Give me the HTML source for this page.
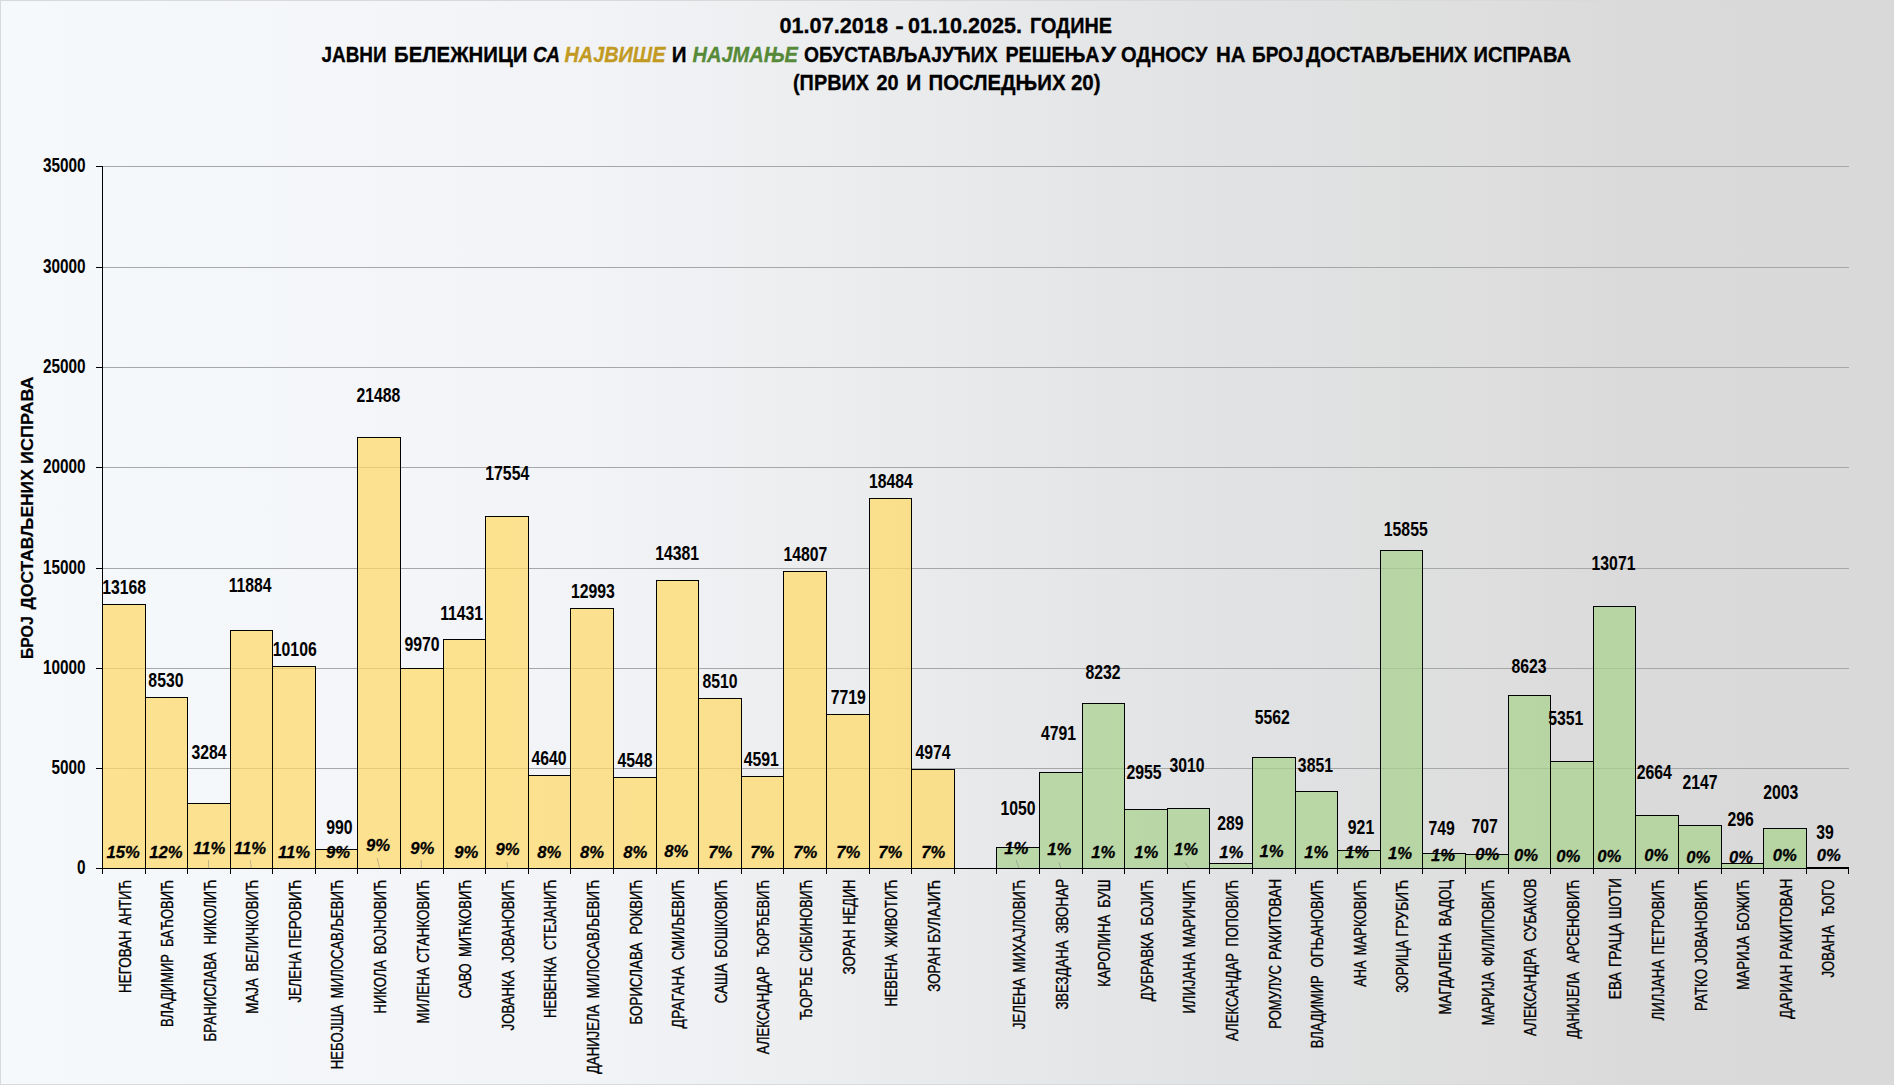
<!DOCTYPE html><html lang="sr"><head><meta charset="utf-8"><title>Јавни бележници</title>
<style>html,body{margin:0;padding:0;background:#ececee;}body{width:1894px;height:1085px;overflow:hidden;}svg{display:block}text{font-family:"Liberation Sans",Arial,sans-serif;fill:#000}.v{font-weight:bold;font-size:19.90px}.p{font-weight:bold;font-style:italic;font-size:16.00px}.c{font-size:16.00px;stroke:#000;stroke-width:0.35px}.p{stroke:#000;stroke-width:0.25px}.t{stroke:#000;stroke-width:0.30px}.yt{stroke:#000;stroke-width:0.20px}.t{font-weight:bold;font-size:21.30px}.ya{font-weight:bold;font-size:20.10px}.yt{font-weight:bold;font-size:17.30px}</style></head><body>
<svg width="1894" height="1085" viewBox="0 0 1894 1085">
<defs><linearGradient id="bg" x1="0" y1="0" x2="1" y2="0">
<stop offset="0.000" stop-color="#F6F9FC"/>
<stop offset="0.220" stop-color="#F3F5F8"/>
<stop offset="0.317" stop-color="#F1F3F6"/>
<stop offset="0.420" stop-color="#EDEEF0"/>
<stop offset="0.630" stop-color="#E2E3E5"/>
<stop offset="0.790" stop-color="#DDDEDD"/>
<stop offset="0.860" stop-color="#DADADA"/>
<stop offset="1.000" stop-color="#D9D9D9"/>
</linearGradient></defs>
<g id="gbg"><rect x="0" y="0" width="1894" height="1085" fill="url(#bg)"/>
<rect x="0.5" y="0.5" width="1893" height="1084" fill="none" stroke="#D9D9D9" stroke-width="1"/>
</g>
<g id="gtitle">
<text class="t" x="779.48" y="32.90" textLength="108.53" lengthAdjust="spacingAndGlyphs">01.07.2018</text>
<text class="t" x="895.34" y="32.90" textLength="8.48" lengthAdjust="spacingAndGlyphs">-</text>
<text class="t" x="907.99" y="32.90" textLength="114.03" lengthAdjust="spacingAndGlyphs">01.10.2025.</text>
<text class="t" x="1029.97" y="32.90" textLength="82.05" lengthAdjust="spacingAndGlyphs">ГОДИНЕ</text>
<text class="t" x="321.50" y="61.60" textLength="65.04" lengthAdjust="spacingAndGlyphs">ЈАВНИ</text>
<text class="t" x="393.98" y="61.60" textLength="133.54" lengthAdjust="spacingAndGlyphs">БЕЛЕЖНИЦИ</text>
<text class="t" x="532.97" y="61.60" textLength="27.11" lengthAdjust="spacingAndGlyphs" style="font-style:italic;">СА</text>
<text class="t" x="564.47" y="61.60" textLength="101.04" lengthAdjust="spacingAndGlyphs" style="font-style:italic;fill:#C29A22;stroke:#C29A22;">НАЈВИШЕ</text>
<text class="t" x="671.82" y="61.60" textLength="14.82" lengthAdjust="spacingAndGlyphs">И</text>
<text class="t" x="692.49" y="61.60" textLength="105.51" lengthAdjust="spacingAndGlyphs" style="font-style:italic;fill:#578A38;stroke:#578A38;">НАЈМАЊЕ</text>
<text class="t" x="804.00" y="61.60" textLength="193.50" lengthAdjust="spacingAndGlyphs">ОБУСТАВЉАЈУЋИХ</text>
<text class="t" x="1005.47" y="61.60" textLength="94.04" lengthAdjust="spacingAndGlyphs">РЕШЕЊА</text>
<text class="t" x="1100.98" y="61.60" textLength="15.03" lengthAdjust="spacingAndGlyphs">У</text>
<text class="t" x="1120.99" y="61.60" textLength="86.52" lengthAdjust="spacingAndGlyphs">ОДНОСУ</text>
<text class="t" x="1215.88" y="61.60" textLength="29.63" lengthAdjust="spacingAndGlyphs">НА</text>
<text class="t" x="1251.96" y="61.60" textLength="51.62" lengthAdjust="spacingAndGlyphs">БРОЈ</text>
<text class="t" x="1306.00" y="61.60" textLength="161.50" lengthAdjust="spacingAndGlyphs">ДОСТАВЉЕНИХ</text>
<text class="t" x="1473.47" y="61.60" textLength="97.56" lengthAdjust="spacingAndGlyphs">ИСПРАВА</text>
<text class="t" x="793.00" y="89.50" textLength="76.01" lengthAdjust="spacingAndGlyphs">(ПРВИХ</text>
<text class="t" x="876.44" y="89.50" textLength="22.13" lengthAdjust="spacingAndGlyphs">20</text>
<text class="t" x="906.18" y="89.50" textLength="15.04" lengthAdjust="spacingAndGlyphs">И</text>
<text class="t" x="928.49" y="89.50" textLength="137.02" lengthAdjust="spacingAndGlyphs">ПОСЛЕДЊИХ</text>
<text class="t" x="1070.97" y="89.50" textLength="29.57" lengthAdjust="spacingAndGlyphs">20)</text>
</g>
<g id="gchart">
<rect x="103" y="768" width="1746" height="1" fill="#A6A7A9"/>
<rect x="103" y="668" width="1746" height="1" fill="#A6A7A9"/>
<rect x="103" y="568" width="1746" height="1" fill="#A6A7A9"/>
<rect x="103" y="467" width="1746" height="1" fill="#A6A7A9"/>
<rect x="103" y="367" width="1746" height="1" fill="#A6A7A9"/>
<rect x="103" y="267" width="1746" height="1" fill="#A6A7A9"/>
<rect x="103" y="166" width="1746" height="1" fill="#A6A7A9"/>
<rect x="102" y="604" width="43" height="264" fill="#FFD966" fill-opacity="0.720"/>
<rect x="102" y="604" width="1" height="264" fill="#000"/>
<rect x="145" y="604" width="1" height="264" fill="#000"/>
<rect x="102" y="604" width="44" height="1" fill="#000"/>
<rect x="145" y="697" width="42" height="171" fill="#FFD966" fill-opacity="0.720"/>
<rect x="145" y="697" width="1" height="171" fill="#000"/>
<rect x="187" y="697" width="1" height="171" fill="#000"/>
<rect x="145" y="697" width="43" height="1" fill="#000"/>
<rect x="187" y="803" width="43" height="65" fill="#FFD966" fill-opacity="0.720"/>
<rect x="187" y="803" width="1" height="65" fill="#000"/>
<rect x="230" y="803" width="1" height="65" fill="#000"/>
<rect x="187" y="803" width="44" height="1" fill="#000"/>
<rect x="230" y="630" width="42" height="238" fill="#FFD966" fill-opacity="0.720"/>
<rect x="230" y="630" width="1" height="238" fill="#000"/>
<rect x="272" y="630" width="1" height="238" fill="#000"/>
<rect x="230" y="630" width="43" height="1" fill="#000"/>
<rect x="272" y="666" width="43" height="202" fill="#FFD966" fill-opacity="0.720"/>
<rect x="272" y="666" width="1" height="202" fill="#000"/>
<rect x="315" y="666" width="1" height="202" fill="#000"/>
<rect x="272" y="666" width="44" height="1" fill="#000"/>
<rect x="315" y="849" width="42" height="19" fill="#FFD966" fill-opacity="0.720"/>
<rect x="315" y="849" width="1" height="19" fill="#000"/>
<rect x="357" y="849" width="1" height="19" fill="#000"/>
<rect x="315" y="849" width="43" height="1" fill="#000"/>
<rect x="357" y="437" width="43" height="431" fill="#FFD966" fill-opacity="0.720"/>
<rect x="357" y="437" width="1" height="431" fill="#000"/>
<rect x="400" y="437" width="1" height="431" fill="#000"/>
<rect x="357" y="437" width="44" height="1" fill="#000"/>
<rect x="400" y="668" width="43" height="200" fill="#FFD966" fill-opacity="0.720"/>
<rect x="400" y="668" width="1" height="200" fill="#000"/>
<rect x="443" y="668" width="1" height="200" fill="#000"/>
<rect x="400" y="668" width="44" height="1" fill="#000"/>
<rect x="443" y="639" width="42" height="229" fill="#FFD966" fill-opacity="0.720"/>
<rect x="443" y="639" width="1" height="229" fill="#000"/>
<rect x="485" y="639" width="1" height="229" fill="#000"/>
<rect x="443" y="639" width="43" height="1" fill="#000"/>
<rect x="485" y="516" width="43" height="352" fill="#FFD966" fill-opacity="0.720"/>
<rect x="485" y="516" width="1" height="352" fill="#000"/>
<rect x="528" y="516" width="1" height="352" fill="#000"/>
<rect x="485" y="516" width="44" height="1" fill="#000"/>
<rect x="528" y="775" width="42" height="93" fill="#FFD966" fill-opacity="0.720"/>
<rect x="528" y="775" width="1" height="93" fill="#000"/>
<rect x="570" y="775" width="1" height="93" fill="#000"/>
<rect x="528" y="775" width="43" height="1" fill="#000"/>
<rect x="570" y="608" width="43" height="260" fill="#FFD966" fill-opacity="0.720"/>
<rect x="570" y="608" width="1" height="260" fill="#000"/>
<rect x="613" y="608" width="1" height="260" fill="#000"/>
<rect x="570" y="608" width="44" height="1" fill="#000"/>
<rect x="613" y="777" width="43" height="91" fill="#FFD966" fill-opacity="0.720"/>
<rect x="613" y="777" width="1" height="91" fill="#000"/>
<rect x="656" y="777" width="1" height="91" fill="#000"/>
<rect x="613" y="777" width="44" height="1" fill="#000"/>
<rect x="656" y="580" width="42" height="288" fill="#FFD966" fill-opacity="0.720"/>
<rect x="656" y="580" width="1" height="288" fill="#000"/>
<rect x="698" y="580" width="1" height="288" fill="#000"/>
<rect x="656" y="580" width="43" height="1" fill="#000"/>
<rect x="698" y="698" width="43" height="170" fill="#FFD966" fill-opacity="0.720"/>
<rect x="698" y="698" width="1" height="170" fill="#000"/>
<rect x="741" y="698" width="1" height="170" fill="#000"/>
<rect x="698" y="698" width="44" height="1" fill="#000"/>
<rect x="741" y="776" width="42" height="92" fill="#FFD966" fill-opacity="0.720"/>
<rect x="741" y="776" width="1" height="92" fill="#000"/>
<rect x="783" y="776" width="1" height="92" fill="#000"/>
<rect x="741" y="776" width="43" height="1" fill="#000"/>
<rect x="783" y="571" width="43" height="297" fill="#FFD966" fill-opacity="0.720"/>
<rect x="783" y="571" width="1" height="297" fill="#000"/>
<rect x="826" y="571" width="1" height="297" fill="#000"/>
<rect x="783" y="571" width="44" height="1" fill="#000"/>
<rect x="826" y="714" width="43" height="154" fill="#FFD966" fill-opacity="0.720"/>
<rect x="826" y="714" width="1" height="154" fill="#000"/>
<rect x="869" y="714" width="1" height="154" fill="#000"/>
<rect x="826" y="714" width="44" height="1" fill="#000"/>
<rect x="869" y="498" width="42" height="370" fill="#FFD966" fill-opacity="0.720"/>
<rect x="869" y="498" width="1" height="370" fill="#000"/>
<rect x="911" y="498" width="1" height="370" fill="#000"/>
<rect x="869" y="498" width="43" height="1" fill="#000"/>
<rect x="911" y="769" width="43" height="99" fill="#FFD966" fill-opacity="0.720"/>
<rect x="911" y="769" width="1" height="99" fill="#000"/>
<rect x="954" y="769" width="1" height="99" fill="#000"/>
<rect x="911" y="769" width="44" height="1" fill="#000"/>
<rect x="996" y="847" width="43" height="21" fill="#A9D18E" fill-opacity="0.720"/>
<rect x="996" y="847" width="1" height="21" fill="#000"/>
<rect x="1039" y="847" width="1" height="21" fill="#000"/>
<rect x="996" y="847" width="44" height="1" fill="#000"/>
<rect x="1039" y="772" width="43" height="96" fill="#A9D18E" fill-opacity="0.720"/>
<rect x="1039" y="772" width="1" height="96" fill="#000"/>
<rect x="1082" y="772" width="1" height="96" fill="#000"/>
<rect x="1039" y="772" width="44" height="1" fill="#000"/>
<rect x="1082" y="703" width="42" height="165" fill="#A9D18E" fill-opacity="0.720"/>
<rect x="1082" y="703" width="1" height="165" fill="#000"/>
<rect x="1124" y="703" width="1" height="165" fill="#000"/>
<rect x="1082" y="703" width="43" height="1" fill="#000"/>
<rect x="1124" y="809" width="43" height="59" fill="#A9D18E" fill-opacity="0.720"/>
<rect x="1124" y="809" width="1" height="59" fill="#000"/>
<rect x="1167" y="809" width="1" height="59" fill="#000"/>
<rect x="1124" y="809" width="44" height="1" fill="#000"/>
<rect x="1167" y="808" width="42" height="60" fill="#A9D18E" fill-opacity="0.720"/>
<rect x="1167" y="808" width="1" height="60" fill="#000"/>
<rect x="1209" y="808" width="1" height="60" fill="#000"/>
<rect x="1167" y="808" width="43" height="1" fill="#000"/>
<rect x="1209" y="863" width="43" height="5" fill="#A9D18E" fill-opacity="0.720"/>
<rect x="1209" y="863" width="1" height="5" fill="#000"/>
<rect x="1252" y="863" width="1" height="5" fill="#000"/>
<rect x="1209" y="863" width="44" height="1" fill="#000"/>
<rect x="1252" y="757" width="43" height="111" fill="#A9D18E" fill-opacity="0.720"/>
<rect x="1252" y="757" width="1" height="111" fill="#000"/>
<rect x="1295" y="757" width="1" height="111" fill="#000"/>
<rect x="1252" y="757" width="44" height="1" fill="#000"/>
<rect x="1295" y="791" width="42" height="77" fill="#A9D18E" fill-opacity="0.720"/>
<rect x="1295" y="791" width="1" height="77" fill="#000"/>
<rect x="1337" y="791" width="1" height="77" fill="#000"/>
<rect x="1295" y="791" width="43" height="1" fill="#000"/>
<rect x="1337" y="850" width="43" height="18" fill="#A9D18E" fill-opacity="0.720"/>
<rect x="1337" y="850" width="1" height="18" fill="#000"/>
<rect x="1380" y="850" width="1" height="18" fill="#000"/>
<rect x="1337" y="850" width="44" height="1" fill="#000"/>
<rect x="1380" y="550" width="42" height="318" fill="#A9D18E" fill-opacity="0.720"/>
<rect x="1380" y="550" width="1" height="318" fill="#000"/>
<rect x="1422" y="550" width="1" height="318" fill="#000"/>
<rect x="1380" y="550" width="43" height="1" fill="#000"/>
<rect x="1422" y="853" width="43" height="15" fill="#A9D18E" fill-opacity="0.720"/>
<rect x="1422" y="853" width="1" height="15" fill="#000"/>
<rect x="1465" y="853" width="1" height="15" fill="#000"/>
<rect x="1422" y="853" width="44" height="1" fill="#000"/>
<rect x="1465" y="854" width="43" height="14" fill="#A9D18E" fill-opacity="0.720"/>
<rect x="1465" y="854" width="1" height="14" fill="#000"/>
<rect x="1508" y="854" width="1" height="14" fill="#000"/>
<rect x="1465" y="854" width="44" height="1" fill="#000"/>
<rect x="1508" y="695" width="42" height="173" fill="#A9D18E" fill-opacity="0.720"/>
<rect x="1508" y="695" width="1" height="173" fill="#000"/>
<rect x="1550" y="695" width="1" height="173" fill="#000"/>
<rect x="1508" y="695" width="43" height="1" fill="#000"/>
<rect x="1550" y="761" width="43" height="107" fill="#A9D18E" fill-opacity="0.720"/>
<rect x="1550" y="761" width="1" height="107" fill="#000"/>
<rect x="1593" y="761" width="1" height="107" fill="#000"/>
<rect x="1550" y="761" width="44" height="1" fill="#000"/>
<rect x="1593" y="606" width="42" height="262" fill="#A9D18E" fill-opacity="0.720"/>
<rect x="1593" y="606" width="1" height="262" fill="#000"/>
<rect x="1635" y="606" width="1" height="262" fill="#000"/>
<rect x="1593" y="606" width="43" height="1" fill="#000"/>
<rect x="1635" y="815" width="43" height="53" fill="#A9D18E" fill-opacity="0.720"/>
<rect x="1635" y="815" width="1" height="53" fill="#000"/>
<rect x="1678" y="815" width="1" height="53" fill="#000"/>
<rect x="1635" y="815" width="44" height="1" fill="#000"/>
<rect x="1678" y="825" width="43" height="43" fill="#A9D18E" fill-opacity="0.720"/>
<rect x="1678" y="825" width="1" height="43" fill="#000"/>
<rect x="1721" y="825" width="1" height="43" fill="#000"/>
<rect x="1678" y="825" width="44" height="1" fill="#000"/>
<rect x="1721" y="863" width="42" height="5" fill="#A9D18E" fill-opacity="0.720"/>
<rect x="1721" y="863" width="1" height="5" fill="#000"/>
<rect x="1763" y="863" width="1" height="5" fill="#000"/>
<rect x="1721" y="863" width="43" height="1" fill="#000"/>
<rect x="1763" y="828" width="43" height="40" fill="#A9D18E" fill-opacity="0.720"/>
<rect x="1763" y="828" width="1" height="40" fill="#000"/>
<rect x="1806" y="828" width="1" height="40" fill="#000"/>
<rect x="1763" y="828" width="44" height="1" fill="#000"/>
<rect x="1806" y="867" width="43" height="1" fill="#000"/>
<rect x="102" y="166" width="1" height="703" fill="#000"/>
<rect x="102" y="868" width="1747" height="1" fill="#000"/>
<rect x="96" y="868" width="6" height="1" fill="#000"/>
<rect x="96" y="768" width="6" height="1" fill="#000"/>
<rect x="96" y="668" width="6" height="1" fill="#000"/>
<rect x="96" y="568" width="6" height="1" fill="#000"/>
<rect x="96" y="467" width="6" height="1" fill="#000"/>
<rect x="96" y="367" width="6" height="1" fill="#000"/>
<rect x="96" y="267" width="6" height="1" fill="#000"/>
<rect x="96" y="166" width="6" height="1" fill="#000"/>
<rect x="102" y="869" width="1" height="5" fill="#000"/>
<rect x="145" y="869" width="1" height="5" fill="#000"/>
<rect x="187" y="869" width="1" height="5" fill="#000"/>
<rect x="230" y="869" width="1" height="5" fill="#000"/>
<rect x="272" y="869" width="1" height="5" fill="#000"/>
<rect x="315" y="869" width="1" height="5" fill="#000"/>
<rect x="357" y="869" width="1" height="5" fill="#000"/>
<rect x="400" y="869" width="1" height="5" fill="#000"/>
<rect x="443" y="869" width="1" height="5" fill="#000"/>
<rect x="485" y="869" width="1" height="5" fill="#000"/>
<rect x="528" y="869" width="1" height="5" fill="#000"/>
<rect x="570" y="869" width="1" height="5" fill="#000"/>
<rect x="613" y="869" width="1" height="5" fill="#000"/>
<rect x="656" y="869" width="1" height="5" fill="#000"/>
<rect x="698" y="869" width="1" height="5" fill="#000"/>
<rect x="741" y="869" width="1" height="5" fill="#000"/>
<rect x="783" y="869" width="1" height="5" fill="#000"/>
<rect x="826" y="869" width="1" height="5" fill="#000"/>
<rect x="869" y="869" width="1" height="5" fill="#000"/>
<rect x="911" y="869" width="1" height="5" fill="#000"/>
<rect x="954" y="869" width="1" height="5" fill="#000"/>
<rect x="996" y="869" width="1" height="5" fill="#000"/>
<rect x="1039" y="869" width="1" height="5" fill="#000"/>
<rect x="1082" y="869" width="1" height="5" fill="#000"/>
<rect x="1124" y="869" width="1" height="5" fill="#000"/>
<rect x="1167" y="869" width="1" height="5" fill="#000"/>
<rect x="1209" y="869" width="1" height="5" fill="#000"/>
<rect x="1252" y="869" width="1" height="5" fill="#000"/>
<rect x="1295" y="869" width="1" height="5" fill="#000"/>
<rect x="1337" y="869" width="1" height="5" fill="#000"/>
<rect x="1380" y="869" width="1" height="5" fill="#000"/>
<rect x="1422" y="869" width="1" height="5" fill="#000"/>
<rect x="1465" y="869" width="1" height="5" fill="#000"/>
<rect x="1508" y="869" width="1" height="5" fill="#000"/>
<rect x="1550" y="869" width="1" height="5" fill="#000"/>
<rect x="1593" y="869" width="1" height="5" fill="#000"/>
<rect x="1635" y="869" width="1" height="5" fill="#000"/>
<rect x="1678" y="869" width="1" height="5" fill="#000"/>
<rect x="1721" y="869" width="1" height="5" fill="#000"/>
<rect x="1763" y="869" width="1" height="5" fill="#000"/>
<rect x="1806" y="869" width="1" height="5" fill="#000"/>
<rect x="1848" y="869" width="1" height="5" fill="#000"/>
</g>
<g id="gylab">
<text class="ya" x="0.00" y="0.00" text-anchor="end" transform="translate(85.60 873.50) scale(0.7640 1) translate(0.00 0.00)">0</text>
<text class="ya" x="0.00" y="0.00" text-anchor="end" transform="translate(85.60 773.50) scale(0.7640 1) translate(0.00 0.00)">5000</text>
<text class="ya" x="0.00" y="0.00" text-anchor="end" transform="translate(85.60 673.50) scale(0.7640 1) translate(0.00 0.00)">10000</text>
<text class="ya" x="0.00" y="0.00" text-anchor="end" transform="translate(85.60 573.50) scale(0.7640 1) translate(0.00 0.00)">15000</text>
<text class="ya" x="0.00" y="0.00" text-anchor="end" transform="translate(85.60 472.50) scale(0.7640 1) translate(0.00 0.00)">20000</text>
<text class="ya" x="0.00" y="0.00" text-anchor="end" transform="translate(85.60 372.50) scale(0.7640 1) translate(0.00 0.00)">25000</text>
<text class="ya" x="0.00" y="0.00" text-anchor="end" transform="translate(85.60 272.50) scale(0.7640 1) translate(0.00 0.00)">30000</text>
<text class="ya" x="0.00" y="0.00" text-anchor="end" transform="translate(85.60 171.50) scale(0.7640 1) translate(0.00 0.00)">35000</text>
</g>
<g id="gytitle">
<text class="yt" text-anchor="end" transform="translate(32.90 376.40) rotate(-90) scale(1.0430 1)">ИСПРАВА</text>
<text class="yt" text-anchor="end" transform="translate(32.90 469.21) rotate(-90) scale(1.0088 1)">ДОСТАВЉЕНИХ</text>
<text class="yt" text-anchor="end" transform="translate(32.90 616.31) rotate(-90) scale(0.9144 1)">БРОЈ</text>
</g>
<g id="gvlab">
<text class="v" text-anchor="middle" transform="translate(124.05 593.80) scale(0.7930 1)">13168</text>
<text class="v" text-anchor="middle" transform="translate(165.90 686.60) scale(0.7930 1)">8530</text>
<text class="v" text-anchor="middle" transform="translate(209.10 759.00) scale(0.7930 1)">3284</text>
<text class="v" text-anchor="middle" transform="translate(250.10 592.00) scale(0.7930 1)">11884</text>
<text class="v" text-anchor="middle" transform="translate(294.75 655.60) scale(0.7930 1)">10106</text>
<text class="v" text-anchor="middle" transform="translate(339.40 833.60) scale(0.7930 1)">990</text>
<text class="v" text-anchor="middle" transform="translate(378.35 401.70) scale(0.7930 1)">21488</text>
<text class="v" text-anchor="middle" transform="translate(422.00 650.70) scale(0.7930 1)">9970</text>
<text class="v" text-anchor="middle" transform="translate(461.60 619.90) scale(0.7930 1)">11431</text>
<text class="v" text-anchor="middle" transform="translate(507.25 479.80) scale(0.7930 1)">17554</text>
<text class="v" text-anchor="middle" transform="translate(549.00 764.90) scale(0.7930 1)">4640</text>
<text class="v" text-anchor="middle" transform="translate(592.90 597.80) scale(0.7930 1)">12993</text>
<text class="v" text-anchor="middle" transform="translate(634.95 766.80) scale(0.7930 1)">4548</text>
<text class="v" text-anchor="middle" transform="translate(677.15 560.20) scale(0.7930 1)">14381</text>
<text class="v" text-anchor="middle" transform="translate(720.05 687.70) scale(0.7930 1)">8510</text>
<text class="v" text-anchor="middle" transform="translate(761.20 765.90) scale(0.7930 1)">4591</text>
<text class="v" text-anchor="middle" transform="translate(805.40 561.20) scale(0.7930 1)">14807</text>
<text class="v" text-anchor="middle" transform="translate(848.20 704.00) scale(0.7930 1)">7719</text>
<text class="v" text-anchor="middle" transform="translate(890.85 488.30) scale(0.7930 1)">18484</text>
<text class="v" text-anchor="middle" transform="translate(933.10 758.80) scale(0.7930 1)">4974</text>
<text class="v" text-anchor="middle" transform="translate(1018.10 814.90) scale(0.7930 1)">1050</text>
<text class="v" text-anchor="middle" transform="translate(1058.50 740.00) scale(0.7930 1)">4791</text>
<text class="v" text-anchor="middle" transform="translate(1103.00 678.80) scale(0.7930 1)">8232</text>
<text class="v" text-anchor="middle" transform="translate(1143.95 779.40) scale(0.7930 1)">2955</text>
<text class="v" text-anchor="middle" transform="translate(1187.05 771.80) scale(0.7930 1)">3010</text>
<text class="v" text-anchor="middle" transform="translate(1230.40 829.60) scale(0.7930 1)">289</text>
<text class="v" text-anchor="middle" transform="translate(1272.25 723.60) scale(0.7930 1)">5562</text>
<text class="v" text-anchor="middle" transform="translate(1315.40 772.40) scale(0.7930 1)">3851</text>
<text class="v" text-anchor="middle" transform="translate(1361.00 833.50) scale(0.7930 1)">921</text>
<text class="v" text-anchor="middle" transform="translate(1405.75 535.90) scale(0.7930 1)">15855</text>
<text class="v" text-anchor="middle" transform="translate(1441.60 835.20) scale(0.7930 1)">749</text>
<text class="v" text-anchor="middle" transform="translate(1484.55 832.60) scale(0.7930 1)">707</text>
<text class="v" text-anchor="middle" transform="translate(1528.95 672.80) scale(0.7930 1)">8623</text>
<text class="v" text-anchor="middle" transform="translate(1565.75 725.10) scale(0.7930 1)">5351</text>
<text class="v" text-anchor="middle" transform="translate(1613.50 570.00) scale(0.7930 1)">13071</text>
<text class="v" text-anchor="middle" transform="translate(1654.30 778.80) scale(0.7930 1)">2664</text>
<text class="v" text-anchor="middle" transform="translate(1699.95 788.70) scale(0.7930 1)">2147</text>
<text class="v" text-anchor="middle" transform="translate(1740.60 825.70) scale(0.7930 1)">296</text>
<text class="v" text-anchor="middle" transform="translate(1780.85 798.90) scale(0.7930 1)">2003</text>
<text class="v" text-anchor="middle" transform="translate(1825.00 839.40) scale(0.7930 1)">39</text>
</g>
<g id="gplab">
<text class="p" text-anchor="middle" transform="translate(123.20 857.60) scale(1.0400 1)">15%</text>
<text class="p" text-anchor="middle" transform="translate(166.00 857.60) scale(1.0400 1)">12%</text>
<text class="p" text-anchor="middle" transform="translate(209.15 853.90) scale(1.0400 1)">11%</text>
<line x1="208.50" y1="860.20" x2="208.60" y2="868.00" stroke="#808080" stroke-opacity="0.55" stroke-width="0.90"/>
<text class="p" text-anchor="middle" transform="translate(249.95 853.90) scale(1.0400 1)">11%</text>
<line x1="250.40" y1="860.20" x2="251.20" y2="868.00" stroke="#808080" stroke-opacity="0.55" stroke-width="0.90"/>
<text class="p" text-anchor="middle" transform="translate(294.05 857.60) scale(1.0400 1)">11%</text>
<text class="p" text-anchor="middle" transform="translate(338.00 857.60) scale(1.0400 1)">9%</text>
<text class="p" text-anchor="middle" transform="translate(377.95 850.90) scale(1.0400 1)">9%</text>
<line x1="377.20" y1="858.10" x2="379.50" y2="868.00" stroke="#808080" stroke-opacity="0.55" stroke-width="0.90"/>
<text class="p" text-anchor="middle" transform="translate(422.25 854.10) scale(1.0400 1)">9%</text>
<line x1="421.20" y1="860.20" x2="421.30" y2="868.00" stroke="#808080" stroke-opacity="0.55" stroke-width="0.90"/>
<text class="p" text-anchor="middle" transform="translate(466.25 858.20) scale(1.0400 1)">9%</text>
<text class="p" text-anchor="middle" transform="translate(507.40 854.90) scale(1.0400 1)">9%</text>
<line x1="507.10" y1="862.40" x2="507.60" y2="868.00" stroke="#808080" stroke-opacity="0.55" stroke-width="0.90"/>
<text class="p" text-anchor="middle" transform="translate(549.30 858.20) scale(1.0400 1)">8%</text>
<text class="p" text-anchor="middle" transform="translate(592.10 858.20) scale(1.0400 1)">8%</text>
<text class="p" text-anchor="middle" transform="translate(635.20 858.20) scale(1.0400 1)">8%</text>
<text class="p" text-anchor="middle" transform="translate(676.20 857.30) scale(1.0400 1)">8%</text>
<text class="p" text-anchor="middle" transform="translate(720.20 858.00) scale(1.0400 1)">7%</text>
<text class="p" text-anchor="middle" transform="translate(762.15 858.00) scale(1.0400 1)">7%</text>
<text class="p" text-anchor="middle" transform="translate(805.15 858.00) scale(1.0400 1)">7%</text>
<text class="p" text-anchor="middle" transform="translate(848.20 858.00) scale(1.0400 1)">7%</text>
<text class="p" text-anchor="middle" transform="translate(890.25 858.00) scale(1.0400 1)">7%</text>
<text class="p" text-anchor="middle" transform="translate(933.15 858.00) scale(1.0400 1)">7%</text>
<text class="p" text-anchor="middle" transform="translate(1016.15 854.10) scale(1.0400 1)">1%</text>
<line x1="1016.10" y1="860.10" x2="1018.80" y2="868.00" stroke="#808080" stroke-opacity="0.55" stroke-width="0.90"/>
<text class="p" text-anchor="middle" transform="translate(1059.20 854.60) scale(1.0400 1)">1%</text>
<line x1="1059.10" y1="862.30" x2="1060.70" y2="868.00" stroke="#808080" stroke-opacity="0.55" stroke-width="0.90"/>
<text class="p" text-anchor="middle" transform="translate(1103.20 858.00) scale(1.0400 1)">1%</text>
<text class="p" text-anchor="middle" transform="translate(1146.20 858.00) scale(1.0400 1)">1%</text>
<text class="p" text-anchor="middle" transform="translate(1185.95 854.60) scale(1.0400 1)">1%</text>
<line x1="1184.80" y1="862.30" x2="1189.00" y2="868.00" stroke="#808080" stroke-opacity="0.55" stroke-width="0.90"/>
<text class="p" text-anchor="middle" transform="translate(1231.25 857.70) scale(1.0400 1)">1%</text>
<text class="p" text-anchor="middle" transform="translate(1271.40 856.80) scale(1.0400 1)">1%</text>
<text class="p" text-anchor="middle" transform="translate(1316.15 857.70) scale(1.0400 1)">1%</text>
<text class="p" text-anchor="middle" transform="translate(1357.10 857.70) scale(1.0400 1)">1%</text>
<text class="p" text-anchor="middle" transform="translate(1399.95 859.30) scale(1.0400 1)">1%</text>
<text class="p" text-anchor="middle" transform="translate(1442.90 860.50) scale(1.0400 1)">1%</text>
<text class="p" text-anchor="middle" transform="translate(1487.20 859.70) scale(1.0400 1)">0%</text>
<text class="p" text-anchor="middle" transform="translate(1526.10 860.60) scale(1.0400 1)">0%</text>
<text class="p" text-anchor="middle" transform="translate(1568.20 861.60) scale(1.0400 1)">0%</text>
<text class="p" text-anchor="middle" transform="translate(1609.20 861.60) scale(1.0400 1)">0%</text>
<text class="p" text-anchor="middle" transform="translate(1656.35 860.60) scale(1.0400 1)">0%</text>
<text class="p" text-anchor="middle" transform="translate(1698.30 862.70) scale(1.0400 1)">0%</text>
<text class="p" text-anchor="middle" transform="translate(1741.00 862.70) scale(1.0400 1)">0%</text>
<text class="p" text-anchor="middle" transform="translate(1784.80 860.60) scale(1.0400 1)">0%</text>
<text class="p" text-anchor="middle" transform="translate(1828.70 860.60) scale(1.0400 1)">0%</text>
</g>
<g id="gclab">
<text class="c" text-anchor="end" transform="translate(130.51 879.80) rotate(-90) scale(0.7973 1)">АНТИЋ</text>
<text class="c" text-anchor="end" transform="translate(130.51 930.18) rotate(-90) scale(0.8405 1)">НЕГОВАН</text>
<text class="c" text-anchor="end" transform="translate(173.10 879.80) rotate(-90) scale(0.8127 1)">БАЋОВИЋ</text>
<text class="c" text-anchor="end" transform="translate(173.10 954.21) rotate(-90) scale(0.8076 1)">ВЛАДИМИР</text>
<text class="c" text-anchor="end" transform="translate(215.70 879.80) rotate(-90) scale(0.8086 1)">НИКОЛИЋ</text>
<text class="c" text-anchor="end" transform="translate(215.70 952.40) rotate(-90) scale(0.8341 1)">БРАНИСЛАВА</text>
<text class="c" text-anchor="end" transform="translate(258.29 879.80) rotate(-90) scale(0.8227 1)">ВЕЛИЧКОВИЋ</text>
<text class="c" text-anchor="end" transform="translate(258.29 978.20) rotate(-90) scale(0.8321 1)">МАЈА</text>
<text class="c" text-anchor="end" transform="translate(300.89 879.80) rotate(-90) scale(0.8465 1)">ПЕРОВИЋ</text>
<text class="c" text-anchor="end" transform="translate(300.89 951.80) rotate(-90) scale(0.8184 1)">ЈЕЛЕНА</text>
<text class="c" text-anchor="end" transform="translate(343.48 879.80) rotate(-90) scale(0.8249 1)">МИЛОСАВЉЕВИЋ</text>
<text class="c" text-anchor="end" transform="translate(343.48 1005.00) rotate(-90) scale(0.8200 1)">НЕБОЈША</text>
<text class="c" text-anchor="end" transform="translate(386.08 879.80) rotate(-90) scale(0.8234 1)">ВОЈНОВИЋ</text>
<text class="c" text-anchor="end" transform="translate(386.08 960.00) rotate(-90) scale(0.8138 1)">НИКОЛА</text>
<text class="c" text-anchor="end" transform="translate(428.67 879.80) rotate(-90) scale(0.8321 1)">СТАНКОВИЋ</text>
<text class="c" text-anchor="end" transform="translate(428.67 967.40) rotate(-90) scale(0.8230 1)">МИЛЕНА</text>
<text class="c" text-anchor="end" transform="translate(471.27 879.80) rotate(-90) scale(0.8053 1)">МИЋКОВИЋ</text>
<text class="c" text-anchor="end" transform="translate(471.27 963.41) rotate(-90) scale(0.7904 1)">САВО</text>
<text class="c" text-anchor="end" transform="translate(513.86 879.80) rotate(-90) scale(0.8200 1)">ЈОВАНОВИЋ</text>
<text class="c" text-anchor="end" transform="translate(513.86 970.40) rotate(-90) scale(0.8255 1)">ЈОВАНКА</text>
<text class="c" text-anchor="end" transform="translate(556.46 879.80) rotate(-90) scale(0.8073 1)">СТЕЈАНИЋ</text>
<text class="c" text-anchor="end" transform="translate(556.46 956.80) rotate(-90) scale(0.8133 1)">НЕВЕНКА</text>
<text class="c" text-anchor="end" transform="translate(599.05 879.80) rotate(-90) scale(0.8242 1)">МИЛОСАВЉЕВИЋ</text>
<text class="c" text-anchor="end" transform="translate(599.05 1004.60) rotate(-90) scale(0.8236 1)">ДАНИЈЕЛА</text>
<text class="c" text-anchor="end" transform="translate(641.65 879.80) rotate(-90) scale(0.8066 1)">РОКВИЋ</text>
<text class="c" text-anchor="end" transform="translate(641.65 942.60) rotate(-90) scale(0.8376 1)">БОРИСЛАВА</text>
<text class="c" text-anchor="end" transform="translate(684.24 879.80) rotate(-90) scale(0.8048 1)">СМИЉЕВИЋ</text>
<text class="c" text-anchor="end" transform="translate(684.24 966.62) rotate(-90) scale(0.8645 1)">ДРАГАНА</text>
<text class="c" text-anchor="end" transform="translate(726.84 879.80) rotate(-90) scale(0.8232 1)">БОШКОВИЋ</text>
<text class="c" text-anchor="end" transform="translate(726.84 963.59) rotate(-90) scale(0.8416 1)">САША</text>
<text class="c" text-anchor="end" transform="translate(769.43 879.80) rotate(-90) scale(0.7954 1)">ЂОРЂЕВИЋ</text>
<text class="c" text-anchor="end" transform="translate(769.43 966.19) rotate(-90) scale(0.8247 1)">АЛЕКСАНДАР</text>
<text class="c" text-anchor="end" transform="translate(812.03 879.80) rotate(-90) scale(0.7819 1)">СИБИНОВИЋ</text>
<text class="c" text-anchor="end" transform="translate(812.03 967.20) rotate(-90) scale(0.8594 1)">ЂОРЂЕ</text>
<text class="c" text-anchor="end" transform="translate(854.62 879.60) rotate(-90) scale(0.8036 1)">НЕДИН</text>
<text class="c" text-anchor="end" transform="translate(854.62 929.38) rotate(-90) scale(0.8391 1)">ЗОРАН</text>
<text class="c" text-anchor="end" transform="translate(897.22 879.80) rotate(-90) scale(0.8079 1)">ЖИВОТИЋ</text>
<text class="c" text-anchor="end" transform="translate(897.22 953.60) rotate(-90) scale(0.8061 1)">НЕВЕНА</text>
<text class="c" text-anchor="end" transform="translate(939.81 879.80) rotate(-90) scale(0.8487 1)">БУЛАЈИЋ</text>
<text class="c" text-anchor="end" transform="translate(939.81 946.99) rotate(-90) scale(0.8333 1)">ЗОРАН</text>
<text class="c" text-anchor="end" transform="translate(1025.00 879.80) rotate(-90) scale(0.8209 1)">МИХАЈЛОВИЋ</text>
<text class="c" text-anchor="end" transform="translate(1025.00 977.80) rotate(-90) scale(0.8296 1)">ЈЕЛЕНА</text>
<text class="c" text-anchor="end" transform="translate(1067.60 878.77) rotate(-90) scale(0.8421 1)">ЗВОНАР</text>
<text class="c" text-anchor="end" transform="translate(1067.60 940.60) rotate(-90) scale(0.8212 1)">ЗВЕЗДАНА</text>
<text class="c" text-anchor="end" transform="translate(1110.19 879.60) rotate(-90) scale(0.8054 1)">БУШ</text>
<text class="c" text-anchor="end" transform="translate(1110.19 914.60) rotate(-90) scale(0.8317 1)">КАРОЛИНА</text>
<text class="c" text-anchor="end" transform="translate(1152.79 879.80) rotate(-90) scale(0.8182 1)">БОЈИЋ</text>
<text class="c" text-anchor="end" transform="translate(1152.79 932.21) rotate(-90) scale(0.8354 1)">ДУБРАВКА</text>
<text class="c" text-anchor="end" transform="translate(1195.38 879.80) rotate(-90) scale(0.8237 1)">МАРИЧИЋ</text>
<text class="c" text-anchor="end" transform="translate(1195.38 952.60) rotate(-90) scale(0.8200 1)">ИЛИЈАНА</text>
<text class="c" text-anchor="end" transform="translate(1237.98 879.80) rotate(-90) scale(0.7971 1)">ПОПОВИЋ</text>
<text class="c" text-anchor="end" transform="translate(1237.98 953.00) rotate(-90) scale(0.8238 1)">АЛЕКСАНДАР</text>
<text class="c" text-anchor="end" transform="translate(1280.57 878.75) rotate(-90) scale(0.8567 1)">РАКИТОВАН</text>
<text class="c" text-anchor="end" transform="translate(1280.57 965.00) rotate(-90) scale(0.8187 1)">РОМУЛУС</text>
<text class="c" text-anchor="end" transform="translate(1323.17 879.80) rotate(-90) scale(0.8125 1)">ОГЊАНОВИЋ</text>
<text class="c" text-anchor="end" transform="translate(1323.17 975.40) rotate(-90) scale(0.8110 1)">ВЛАДИМИР</text>
<text class="c" text-anchor="end" transform="translate(1365.76 879.80) rotate(-90) scale(0.8211 1)">МАРКОВИЋ</text>
<text class="c" text-anchor="end" transform="translate(1365.76 960.41) rotate(-90) scale(0.8018 1)">АНА</text>
<text class="c" text-anchor="end" transform="translate(1408.36 879.79) rotate(-90) scale(0.8799 1)">ГРУБИЋ</text>
<text class="c" text-anchor="end" transform="translate(1408.36 940.00) rotate(-90) scale(0.7911 1)">ЗОРИЦА</text>
<text class="c" text-anchor="end" transform="translate(1450.95 879.80) rotate(-90) scale(0.8218 1)">ВАДОЦ</text>
<text class="c" text-anchor="end" transform="translate(1450.95 933.20) rotate(-90) scale(0.8418 1)">МАГДАЛЕНА</text>
<text class="c" text-anchor="end" transform="translate(1493.55 879.80) rotate(-90) scale(0.8219 1)">ФИЛИПОВИЋ</text>
<text class="c" text-anchor="end" transform="translate(1493.55 972.20) rotate(-90) scale(0.8169 1)">МАРИЈА</text>
<text class="c" text-anchor="end" transform="translate(1536.14 878.77) rotate(-90) scale(0.8450 1)">СУБАКОВ</text>
<text class="c" text-anchor="end" transform="translate(1536.14 948.20) rotate(-90) scale(0.8285 1)">АЛЕКСАНДРА</text>
<text class="c" text-anchor="end" transform="translate(1578.74 879.80) rotate(-90) scale(0.8065 1)">АРСЕНОВИЋ</text>
<text class="c" text-anchor="end" transform="translate(1578.74 971.98) rotate(-90) scale(0.7895 1)">ДАНИЈЕЛА</text>
<text class="c" text-anchor="end" transform="translate(1621.33 878.18) rotate(-90) scale(0.8373 1)">ШОТИ</text>
<text class="c" text-anchor="end" transform="translate(1621.33 923.20) rotate(-90) scale(0.8532 1)">ГРАЦА</text>
<text class="c" text-anchor="end" transform="translate(1621.33 972.20) rotate(-90) scale(0.8561 1)">ЕВА</text>
<text class="c" text-anchor="end" transform="translate(1663.93 879.80) rotate(-90) scale(0.8245 1)">ПЕТРОВИЋ</text>
<text class="c" text-anchor="end" transform="translate(1663.93 959.80) rotate(-90) scale(0.8268 1)">ЛИЛЈАНА</text>
<text class="c" text-anchor="end" transform="translate(1706.52 879.80) rotate(-90) scale(0.8437 1)">ЈОВАНОВИЋ</text>
<text class="c" text-anchor="end" transform="translate(1706.52 968.80) rotate(-90) scale(0.8380 1)">РАТКО</text>
<text class="c" text-anchor="end" transform="translate(1749.12 879.80) rotate(-90) scale(0.8216 1)">БОЖИЋ</text>
<text class="c" text-anchor="end" transform="translate(1749.12 935.80) rotate(-90) scale(0.8326 1)">МАРИЈА</text>
<text class="c" text-anchor="end" transform="translate(1791.71 878.76) rotate(-90) scale(0.8502 1)">РАКИТОВАН</text>
<text class="c" text-anchor="end" transform="translate(1791.71 964.59) rotate(-90) scale(0.8276 1)">ДАРИАН</text>
<text class="c" text-anchor="end" transform="translate(1834.31 879.80) rotate(-90) scale(0.7833 1)">ЂОГО</text>
<text class="c" text-anchor="end" transform="translate(1834.31 925.20) rotate(-90) scale(0.8246 1)">ЈОВАНА</text>
</g>
</svg></body></html>
